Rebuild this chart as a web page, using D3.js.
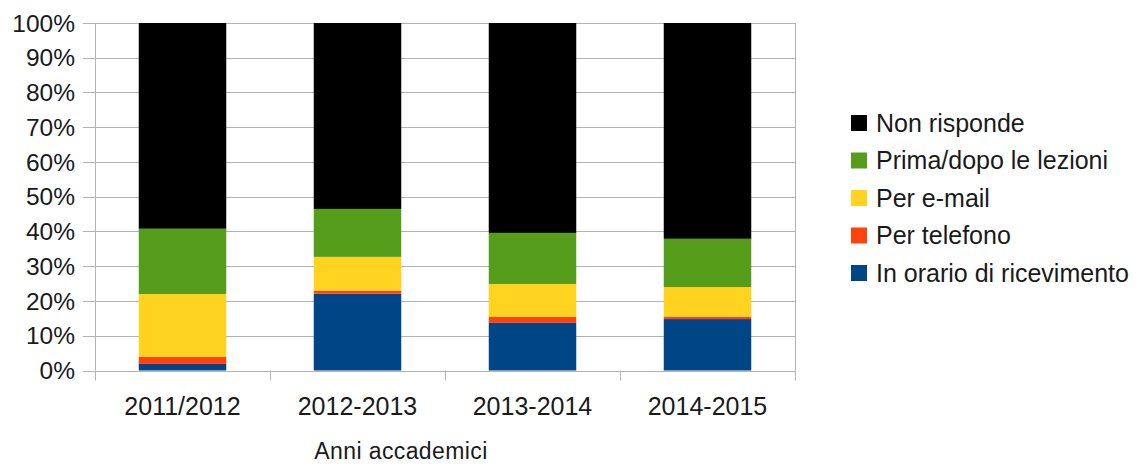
<!DOCTYPE html>
<html lang="it">
<head>
<meta charset="utf-8">
<title>Ricevimento studenti</title>
<script src="https://cdn.jsdelivr.net/npm/d3@7"></script>
<style>
  body { margin: 0; background: #fff; }
  text { font-family: "Liberation Sans", Arial, sans-serif; fill: #1a1a1a; }
</style>
</head>
<body>
<script>
// anni accademici
var anni = ["2011/2012", "2012-2013", "2013-2014", "2014-2015"];

// percentuali (dal basso verso l'alto)
var inOrario   = [1.9, 22.1, 13.7, 14.8];
var telefono   = [2.0, 0.9, 1.7, 0.7];
var email      = [18.1, 9.7, 9.5, 8.5];
var primaDopo  = [18.8, 13.8, 14.7, 13.9];
var nonRisp    = [59.2, 53.5, 60.4, 62.1];

var serie = ["In orario di ricevimento", "Per telefono", "Per e-mail", "Prima/dopo le lezioni", "Non risponde"];
var colori = ["#004586", "#ff420e", "#ffd320", "#579d1c", "#000000"];
var yTicks = [0, 10, 20, 30, 40, 50, 60, 70, 80, 90, 100];

var W = 1141, H = 465;
var mLeft = 95, mRight = 795, mTop = 23, mBottom = 370.5;

var svg = d3.select("body").append("svg")
  .attr("width", W)
  .attr("height", H);

// tabella per lo stack
var valori = [inOrario, telefono, email, primaDopo, nonRisp];
var righe = anni.map(function (a, i) {
  var r = { anno: a };
  serie.forEach(function (s, k) { r[s] = valori[k][i]; });
  return r;
});
var stacked = d3.stack().keys(serie)(righe);

var x = d3.scaleBand().domain(anni).range([mLeft, mRight]).paddingInner(0.5).paddingOuter(0.25);
var xb = d3.scaleBand().domain(anni).range([mLeft, mRight]);
var y = d3.scaleLinear().domain([0, 100]).range([mBottom, mTop]);

// griglia
svg.append("g").selectAll("line")
  .data(yTicks)
  .enter().append("line")
  .attr("x1", mLeft - 12).attr("x2", mRight)
  .attr("y1", function (d) { return Math.round(y(d)) + 0.5; })
  .attr("y2", function (d) { return Math.round(y(d)) + 0.5; })
  .attr("stroke", "#b3b3b3")
  .attr("stroke-width", 1);

// assi verticali
svg.append("line")
  .attr("x1", mLeft + 0.5).attr("x2", mLeft + 0.5)
  .attr("y1", y(100)).attr("y2", mBottom)
  .attr("stroke", "#b3b3b3");
svg.append("line")
  .attr("x1", mRight + 0.5).attr("x2", mRight + 0.5)
  .attr("y1", y(100)).attr("y2", mBottom)
  .attr("stroke", "#b3b3b3");

// tacche sotto l'asse x
var confini = anni.map(function (a) { return xb(a); }).concat([mRight]);
svg.append("g").selectAll("line")
  .data(confini)
  .enter().append("line")
  .attr("x1", function (d) { return Math.round(d) + 0.5; })
  .attr("x2", function (d) { return Math.round(d) + 0.5; })
  .attr("y1", mBottom).attr("y2", mBottom + 10)
  .attr("stroke", "#b3b3b3");

// barre
svg.append("g").selectAll("g")
  .data(stacked)
  .enter().append("g")
  .attr("fill", function (d, i) { return colori[i]; })
  .selectAll("rect")
  .data(function (d) { return d; })
  .enter().append("rect")
  .attr("x", function (d) { return x(d.data.anno); })
  .attr("width", x.bandwidth())
  .attr("y", function (d) { return y(d[1]); })
  .attr("height", function (d) { return y(d[0]) - y(d[1]); });

// etichette y
svg.append("g").selectAll("text")
  .data(yTicks)
  .enter().append("text")
  .attr("x", 75)
  .attr("y", function (d) { return y(d); })
  .attr("dy", "0.35em")
  .attr("text-anchor", "end")
  .style("font-size", "24.5px")
  .text(function (d) { return d + "%"; });

// etichette x
svg.append("g").selectAll("text")
  .data(anni)
  .enter().append("text")
  .attr("x", function (d) { return xb(d) + xb.bandwidth() / 2; })
  .attr("y", 415)
  .attr("text-anchor", "middle")
  .style("font-size", "25px")
  .text(function (d) { return d; });

svg.append("text")
  .attr("x", 401)
  .attr("y", 459)
  .attr("text-anchor", "middle")
  .style("font-size", "23px")
  .style("letter-spacing", "0.4px")
  .text("Anni accademici");

// legenda (in alto l'ultima serie)
var leg = svg.append("g").selectAll("g")
  .data(serie.slice().reverse())
  .enter().append("g")
  .attr("transform", function (d, i) { return "translate(851," + (123 + i * 37.5) + ")"; });

leg.append("rect")
  .attr("x", 0).attr("y", -8)
  .attr("width", 16).attr("height", 16)
  .attr("fill", function (d) { return colori[serie.indexOf(d)]; });

leg.append("text")
  .attr("x", 25)
  .attr("dy", "0.35em")
  .style("font-size", "25px")
  .text(function (d) { return d; });
</script>
</body>
</html>
